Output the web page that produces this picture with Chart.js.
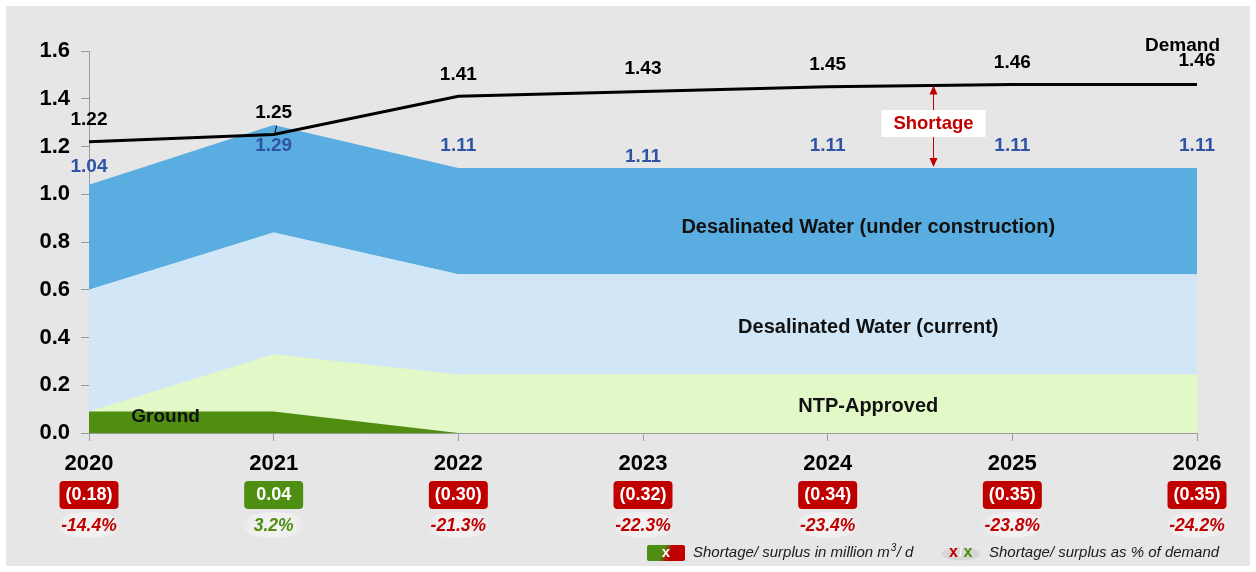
<!DOCTYPE html>
<html>
<head>
<meta charset="utf-8">
<script src="https://cdn.jsdelivr.net/npm/chart.js@4"></script>
<style>
  html, body { margin: 0; padding: 0; background: #ffffff; }
  #wrap { width: 1256px; height: 572px; position: relative; }
</style>
</head>
<body>
<div id="wrap"><canvas id="c" width="1256" height="572"></canvas></div>
<script>
// ---- Data ----
const years = ['2020', '2021', '2022', '2023', '2024', '2025', '2026'];
const ground = [0.09, 0.09, 0, 0, 0, 0, 0];
const ntpApproved = [0, 0.24, 0.245, 0.245, 0.245, 0.245, 0.245];
const desalCurrent = [0.51, 0.51, 0.42, 0.42, 0.42, 0.42, 0.42];
const desalConstruction = [0.44, 0.45, 0.445, 0.445, 0.445, 0.445, 0.445];
const demand = [1.22, 1.25, 1.41, 1.43, 1.45, 1.46, 1.46];
const supplyTotals = [1.04, 1.29, 1.11, 1.11, 1.11, 1.11, 1.11];
const balance = [-0.18, 0.04, -0.30, -0.32, -0.34, -0.35, -0.35];
const balancePct = [-14.4, 3.2, -21.3, -22.3, -23.4, -23.8, -24.2];
const yTicks = [0, 0.2, 0.4, 0.6, 0.8, 1.0, 1.2, 1.4, 1.6];

const FONT = '"Liberation Sans", Arial, sans-serif';
const RED = '#c00000';
const GREEN = '#4e8f12';
const BLUE_TXT = '#2f54a3';

function roundRect(ctx, x, y, w, h, r) {
  ctx.beginPath();
  ctx.moveTo(x + r, y);
  ctx.lineTo(x + w - r, y);
  ctx.quadraticCurveTo(x + w, y, x + w, y + r);
  ctx.lineTo(x + w, y + h - r);
  ctx.quadraticCurveTo(x + w, y + h, x + w - r, y + h);
  ctx.lineTo(x + r, y + h);
  ctx.quadraticCurveTo(x, y + h, x, y + h - r);
  ctx.lineTo(x, y + r);
  ctx.quadraticCurveTo(x, y, x + r, y);
  ctx.closePath();
}

const bgPlugin = {
  id: 'bgPanel',
  beforeDraw(chart) {
    const ctx = chart.ctx;
    ctx.save();
    ctx.fillStyle = '#ffffff';
    ctx.fillRect(0, 0, chart.width, chart.height);
    ctx.fillStyle = '#e6e6e6';
    ctx.fillRect(6, 6, chart.width - 12, chart.height - 12);
    ctx.restore();
  }
};

const demandOffsets = [-22, -22, -22, -23, -22, -22, -24];
const supplyOffsets = [-18, 21, -22, -11, -22, -22, -22];

const annotPlugin = {
  id: 'annot',
  afterDatasetsDraw(chart) {
    const { ctx } = chart;
    const x = chart.scales.x, y = chart.scales.y;
    ctx.save();
    ctx.textAlign = 'center';
    ctx.textBaseline = 'middle';

    // Demand labels
    ctx.fillStyle = '#000';
    ctx.font = 'bold 19px ' + FONT;
    demand.forEach((v, i) => {
      const px = x.getPixelForValue(i), py = y.getPixelForValue(v);
      ctx.fillText(v.toFixed(2), px, py + demandOffsets[i]);
    });
    // leader tick at 2021
    {
      const px = x.getPixelForValue(1), py = y.getPixelForValue(demand[1]);
      ctx.strokeStyle = '#000'; ctx.lineWidth = 1;
      ctx.beginPath(); ctx.moveTo(px + 3, py - 9); ctx.lineTo(px + 1, py - 1); ctx.stroke();
    }
    // "Demand" title
    ctx.textAlign = 'right';
    ctx.fillText('Demand', x.getPixelForValue(6) + 23, y.getPixelForValue(demand[6]) - 39);
    ctx.textAlign = 'center';

    // Supply totals
    ctx.fillStyle = BLUE_TXT;
    supplyTotals.forEach((v, i) => {
      const px = x.getPixelForValue(i), py = y.getPixelForValue(v);
      ctx.fillText(v.toFixed(2), px, py + supplyOffsets[i]);
    });

    // Area labels
    ctx.fillStyle = '#111';
    ctx.font = 'bold 20px ' + FONT;
    ctx.fillText('Desalinated Water (under construction)', x.getPixelForValue(4.22), y.getPixelForValue(0.86));
    ctx.fillText('Desalinated Water (current)', x.getPixelForValue(4.22), y.getPixelForValue(0.444));
    ctx.fillText('NTP-Approved', x.getPixelForValue(4.22), y.getPixelForValue(0.109));
    ctx.font = 'bold 19px ' + FONT;
    ctx.fillText('Ground', x.getPixelForValue(0.415), y.getPixelForValue(0.067));

    // Shortage arrow annotation
    const ax = Math.round(x.getPixelForValue(4.57)) + 0.5;
    const yTop = y.getPixelForValue(1.455);
    const yBot = y.getPixelForValue(1.11) - 1;
    ctx.strokeStyle = RED; ctx.fillStyle = RED; ctx.lineWidth = 1;
    ctx.beginPath(); ctx.moveTo(ax, yTop + 8); ctx.lineTo(ax, yBot - 8); ctx.stroke();
    ctx.beginPath(); ctx.moveTo(ax, yTop); ctx.lineTo(ax - 4, yTop + 9); ctx.lineTo(ax + 4, yTop + 9); ctx.closePath(); ctx.fill();
    ctx.beginPath(); ctx.moveTo(ax, yBot); ctx.lineTo(ax - 4, yBot - 9); ctx.lineTo(ax + 4, yBot - 9); ctx.closePath(); ctx.fill();
    ctx.fillStyle = '#ffffff';
    ctx.fillRect(ax - 52, 110, 104, 27);
    ctx.fillStyle = RED;
    ctx.font = 'bold 18.5px ' + FONT;
    ctx.fillText('Shortage', ax, 124);

    ctx.restore();
  },
  afterDraw(chart) {
    const { ctx } = chart;
    const x = chart.scales.x;
    ctx.save();
    ctx.textAlign = 'center';
    ctx.textBaseline = 'middle';
    // Badges and percentages
    balance.forEach((v, i) => {
      const px = x.getPixelForValue(i);
      const col = v < 0 ? RED : GREEN;
      ctx.fillStyle = col;
      roundRect(ctx, px - 29.5, 481, 59, 28, 4);
      ctx.fill();
      ctx.fillStyle = '#fff';
      ctx.font = 'bold 18px ' + FONT;
      const txt = v < 0 ? '(' + Math.abs(v).toFixed(2) + ')' : v.toFixed(2);
      ctx.fillText(txt, px, 495.5);

      // soft ellipse
      const g = ctx.createRadialGradient(px, 525, 2, px, 525, 32);
      g.addColorStop(0, 'rgba(245,245,245,0.9)');
      g.addColorStop(0.75, 'rgba(241,241,241,0.7)');
      g.addColorStop(1, 'rgba(238,238,238,0)');
      ctx.fillStyle = g;
      ctx.beginPath();
      ctx.ellipse(px, 525, 33, 13, 0, 0, Math.PI * 2);
      ctx.fill();

      ctx.fillStyle = col;
      ctx.font = 'italic bold 17.5px ' + FONT;
      ctx.fillText(balancePct[i].toFixed(1) + '%', px, 526);
    });

    // Legend 1
    const lg = ctx.createLinearGradient(647, 545, 685, 561);
    lg.addColorStop(0, GREEN);
    lg.addColorStop(0.4, GREEN);
    lg.addColorStop(0.6, RED);
    lg.addColorStop(1, RED);
    ctx.fillStyle = lg;
    roundRect(ctx, 647, 545, 38, 16, 2);
    ctx.fill();
    ctx.fillStyle = '#fff';
    ctx.font = 'bold 15px ' + FONT;
    ctx.fillText('x', 666, 553);

    ctx.textAlign = 'left';
    ctx.fillStyle = '#1a1a1a';
    ctx.font = 'italic 15px ' + FONT;
    ctx.save();
    ctx.translate(693, 553);
    ctx.fillText('Shortage/ surplus in million m', 0, 0);
    let w = ctx.measureText('Shortage/ surplus in million m').width;
    ctx.font = 'italic 10px ' + FONT;
    ctx.fillText('3', w + 1, -5);
    ctx.font = 'italic 15px ' + FONT;
    ctx.fillText('/ d', w + 7, 0);
    ctx.restore();

    // Legend 2
    ctx.fillStyle = '#d6d6d6';
    ctx.beginPath();
    ctx.ellipse(960.5, 554, 19.5, 6.5, 0, 0, Math.PI * 2);
    ctx.fill();
    ctx.font = 'bold 16px ' + FONT;
    ctx.textAlign = 'center';
    ctx.fillStyle = RED;
    ctx.fillText('x', 953.5, 553);
    ctx.fillStyle = '#f4f4f4';
    ctx.font = 'bold 14px ' + FONT;
    ctx.fillText('/', 961, 553);
    ctx.font = 'bold 16px ' + FONT;
    ctx.fillStyle = GREEN;
    ctx.fillText('x', 968, 553);

    ctx.textAlign = 'left';
    ctx.fillStyle = '#1a1a1a';
    ctx.font = 'italic 15px ' + FONT;
    ctx.fillText('Shortage/ surplus as % of demand', 989, 553);

    ctx.restore();
  }
};

const areaCommon = { pointRadius: 0, borderWidth: 0, tension: 0, stack: 'supply' };

new Chart(document.getElementById('c'), {
  type: 'line',
  data: {
    labels: years,
    datasets: [
      Object.assign({ label: 'Ground', data: ground, backgroundColor: '#4f8e11', borderColor: '#4f8e11', fill: 'origin', order: 1 }, areaCommon),
      Object.assign({ label: 'NTP-Approved', data: ntpApproved, backgroundColor: '#e2f8c6', borderColor: '#e2f8c6', fill: '-1', order: 2 }, areaCommon),
      Object.assign({ label: 'Desalinated Water (current)', data: desalCurrent, backgroundColor: '#d1e7f7', borderColor: '#d1e7f7', fill: '-1', order: 3 }, areaCommon),
      Object.assign({ label: 'Desalinated Water (under construction)', data: desalConstruction, backgroundColor: '#5aade1', borderColor: '#5aade1', fill: '-1', order: 4 }, areaCommon),
      { label: 'Demand', data: demand, borderColor: '#000', borderWidth: 3, pointRadius: 0, tension: 0, fill: false, stack: 'demand', order: 0 }
    ]
  },
  options: {
    responsive: false,
    animation: false,
    devicePixelRatio: 1,
    layout: { padding: { left: 0, right: 59, top: 51, bottom: 0 } },
    plugins: { legend: { display: false }, tooltip: { enabled: false } },
    scales: {
      x: {
        offset: false,
        grid: { display: true, drawOnChartArea: false, drawTicks: true, tickLength: 8, color: '#9a9a9a' },
        border: { color: '#9a9a9a', width: 1 },
        ticks: { color: '#000', font: { family: FONT, size: 22, weight: 'bold' }, padding: 10, maxRotation: 0, autoSkip: false },
        afterFit(s) { s.height = 139; }
      },
      y: {
        stacked: true,
        min: yTicks[0],
        max: yTicks[yTicks.length - 1],
        afterBuildTicks(s) { s.ticks = yTicks.map(v => ({ value: v })); },
        grid: { display: true, drawOnChartArea: false, drawTicks: true, tickLength: 8, color: '#9a9a9a' },
        border: { color: '#9a9a9a', width: 1 },
        ticks: { color: '#000', font: { family: FONT, size: 22, weight: 'bold' }, padding: 11, callback: v => Number(v).toFixed(1) },
        afterFit(s) { s.width = 89; }
      }
    }
  },
  plugins: [bgPlugin, annotPlugin]
});
</script>
</body>
</html>
